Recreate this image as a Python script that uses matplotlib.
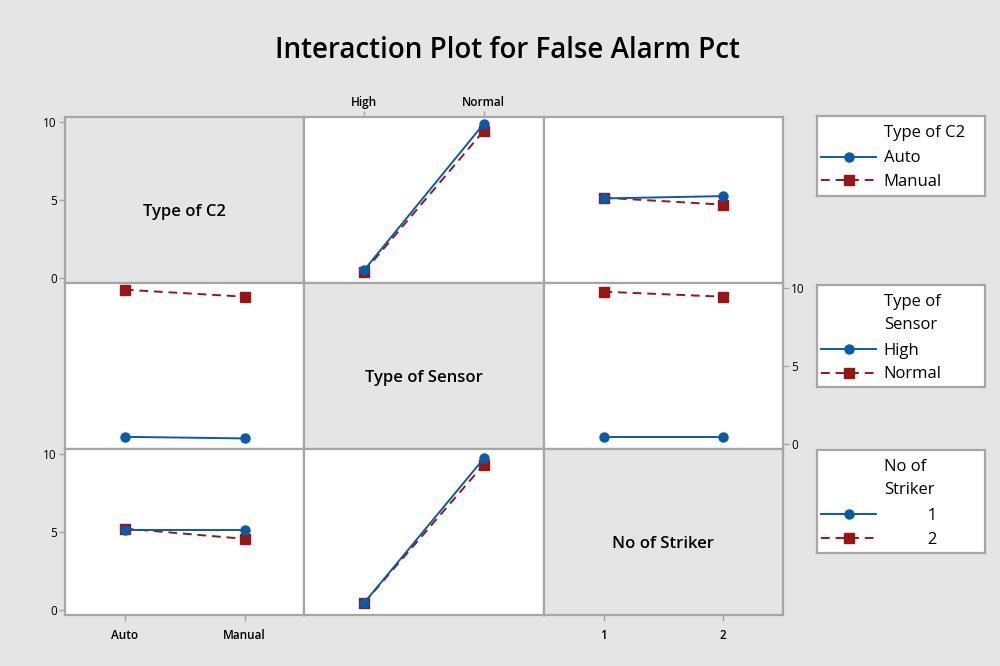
import matplotlib.pyplot as plt
from matplotlib.lines import Line2D

plt.rcParams['font.family'] = ['Open Sans', 'DejaVu Sans']

# factor names and levels
factors = ['Type of C2', 'Type of Sensor', 'No of Striker']
c2_levels = ['Auto', 'Manual']
sensor_levels = ['High', 'Normal']
striker_levels = ['1', '2']

# mean False Alarm Pct, trace factor (row) vs x factor (column)
c2_by_sensor = {'Auto': [0.5, 9.9], 'Manual': [0.4, 9.45]}
c2_by_striker = {'Auto': [5.1, 5.25], 'Manual': [5.15, 4.7]}
sensor_by_c2 = {'High': [0.45, 0.35], 'Normal': [9.9, 9.45]}
sensor_by_striker = {'High': [0.43, 0.43], 'Normal': [9.77, 9.45]}
striker_by_c2 = {'1': [5.1, 5.1], '2': [5.22, 4.56]}
striker_by_sensor = {'1': [0.45, 9.72], '2': [0.45, 9.33]}

panels = {
    (0, 1): c2_by_sensor, (0, 2): c2_by_striker,
    (1, 0): sensor_by_c2, (1, 2): sensor_by_striker,
    (2, 0): striker_by_c2, (2, 1): striker_by_sensor,
}

blue = '#0a5aa8'
red = '#961616'
edge = '#a6a6a6'
bg = '#e5e5e5'
styles = [
    dict(color=blue, marker='o', ls='-', lw=1.4, ms=6.5),
    dict(color=red, marker='s', ls=(0, (4.5, 3)), lw=1.4, ms=6.5),
]

fig, axes = plt.subplots(3, 3, figsize=(10, 6.66), dpi=100, facecolor=bg)
fig.subplots_adjust(left=0.065, right=0.783, top=1 - 117 / 666, bottom=1 - 615 / 666,
                    wspace=0, hspace=0)

for r in range(3):
    for c in range(3):
        ax = axes[r, c]
        ax.set_xlim(-0.5, 1.5)
        ax.set_ylim(-0.33, 10.33)
        for s in ax.spines.values():
            s.set_color(edge)
            s.set_linewidth(1.6)
        ax.tick_params(length=4, width=1, color=edge, labelsize=8.5, pad=2)
        ax.set_xticks([])
        ax.set_yticks([])
        if r == c:
            ax.set_facecolor(bg)
            ax.text(0.5, 0.43, factors[r], transform=ax.transAxes, ha='center',
                    va='center', fontsize=12, fontweight='semibold')
        else:
            ax.set_facecolor('white')
            data = panels[(r, c)]
            for i, (lvl, vals) in enumerate(data.items()):
                ax.plot([0, 1], vals, zorder=4 - i, **styles[i])

# axis ticks / labels as in the Minitab layout
for r in (0, 2):
    axes[r, 0].set_yticks([0, 5, 10])
axes[1, 2].yaxis.tick_right()
axes[1, 2].set_yticks([0, 5, 10])
axes[1, 2].tick_params(axis='y', labelright=True, labelleft=False)

axes[0, 1].xaxis.tick_top()
axes[0, 1].set_xticks([0, 1], sensor_levels, fontweight='semibold')
axes[2, 0].set_xticks([0, 1], c2_levels, fontweight='semibold')
axes[2, 2].set_xticks([0, 1], striker_levels, fontweight='semibold')
axes[2, 0].tick_params(axis='x', pad=6)
axes[2, 2].tick_params(axis='x', pad=6)

fig.text(0.507, 1 - 50 / 666, 'Interaction Plot for False Alarm Pct',
         ha='center', va='center', fontsize=20, fontweight='semibold')

# legends
legend_boxes = [(116, 196), (285, 387), (450, 553)]
legend_titles = ['Type of C2', 'Type of\nSensor', 'No of\nStriker']
legend_labels = [c2_levels, sensor_levels,
                 ['          ' + s for s in striker_levels]]
for (y0, y1), title, labs in zip(legend_boxes, legend_titles, legend_labels):
    hpx = y1 - y0
    lax = fig.add_axes([0.817, 1 - y1 / 666, 0.168, hpx / 666], facecolor='white')
    lax.set_xticks([])
    lax.set_yticks([])
    for s in lax.spines.values():
        s.set_color(edge)
        s.set_linewidth(1.6)
    nlines = title.count('\n') + 1
    lax.text(67 / 168, 1 - 9 / hpx, title, transform=lax.transAxes,
             ha='left', va='top', fontsize=12, fontweight='medium',
             linespacing=1.55)
    handles = [Line2D([], [], **st) for st in styles]
    top_px = 11 + nlines * 23.5
    lax.legend(handles, labs, loc='upper left', frameon=False,
               bbox_to_anchor=(4 / 168, 1 - top_px / hpx),
               borderaxespad=0, borderpad=0, handlelength=3.3,
               handletextpad=0.45, labelspacing=0.45,
               prop=dict(size=12, weight='medium'))

fig.savefig('out.png', dpi=100, facecolor=bg)
